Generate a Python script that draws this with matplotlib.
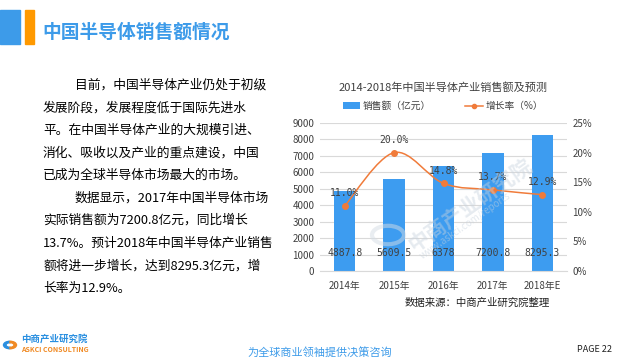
import matplotlib
matplotlib.use("Agg")
import matplotlib.pyplot as plt
from matplotlib.path import Path
from matplotlib.patches import PathPatch, Rectangle, Wedge, Circle
import numpy as np

plt.rcParams['font.family'] = ['Noto Sans CJK SC', 'DejaVu Sans']
plt.rcParams['axes.unicode_minus'] = False

# 数据
years = ["2014年", "2015年", "2016年", "2017年", "2018年E"]
sales = [4887.8, 5609.5, 6378, 7200.8, 8295.3]
sales_labels = ["4887.8", "5609.5", "6378", "7200.8", "8295.3"]
growth = [11.0, 20.0, 14.8, 13.7, 12.9]
left_ticks = [0, 1000, 2000, 3000, 4000, 5000, 6000, 7000, 8000, 9000]
right_ticks = [0, 5, 10, 15, 20, 25]

page_title = "中国半导体销售额情况"
chart_title = "2014-2018年中国半导体产业销售额及预测"
para = [
    "目前，中国半导体产业仍处于初级",
    "发展阶段，发展程度低于国际先进水",
    "平。在中国半导体产业的大规模引进、",
    "消化、吸收以及产业的重点建设，中国",
    "已成为全球半导体市场最大的市场。",
    "数据显示，2017年中国半导体市场",
    "实际销售额为7200.8亿元，同比增长",
    "13.7%。预计2018年中国半导体产业销售",
    "额将进一步增长，达到8295.3亿元，增",
    "长率为12.9%。",
]
indent = [True, False, False, False, False, True, False, False, False, False]

BLUE = "#3d9cf0"
ORANGE = "#f07b3a"
W, H = 625, 360

fig = plt.figure(figsize=(6.25, 3.6), dpi=100)
fig.patch.set_facecolor("white")


def px(x, y):
    return x / W, 1 - y / H


# 页眉
fig.patches.append(Rectangle(px(0, 44), 20 / W, 34 / H, transform=fig.transFigure,
                             color="#3d9be9", zorder=1))
fig.patches.append(Rectangle(px(25, 44), 9 / W, 34 / H, transform=fig.transFigure,
                             color="#ff9900", zorder=1))
fig.text(*px(42, 32), page_title, fontsize=13.5, color="#3d9be9",
         fontweight="bold", va="center", ha="left")

# 左侧文字
for i, line in enumerate(para):
    x0 = 75 if indent[i] else 43
    fig.text(*px(x0, 85 + i * 22.6), line, fontsize=9.2, color="black",
             va="center", ha="left")

# 图表
ax = fig.add_axes([320 / W, 1 - 271 / H, 247 / W, 148 / H])
ax2 = ax.twinx()
xs = np.arange(len(years))
ax.bar(xs, sales, width=0.43, color=BLUE, zorder=2, label="销售额（亿元）")
ax.set_ylim(0, 9000)
ax.set_xlim(-0.5, len(years) - 0.5)
ax.set_yticks(left_ticks)
ax.set_xticks(xs)
ax.set_xticklabels(years)
ax.grid(axis="y", color="#d9d9d9", linewidth=0.8, zorder=0)
ax.set_axisbelow(True)
for s in ax.spines.values():
    s.set_visible(False)
for s in ax2.spines.values():
    s.set_visible(False)
ax.spines["bottom"].set_visible(True)
ax.spines["bottom"].set_color("#d9d9d9")
ax.tick_params(axis="both", length=0, labelsize=7, colors="#404040", pad=4)
ax.tick_params(axis="x", pad=7)

for x, lab in zip(xs, sales_labels):
    ax.annotate(lab, (x, 0), xytext=(0, 13), textcoords="offset points",
                ha="center", va="center", fontsize=7, color="#404040",
                family="DejaVu Sans Mono", zorder=4)

# 平滑增长率曲线（Catmull-Rom 转 Bezier）
ax2.set_ylim(0, 25)
ax2.set_yticks(right_ticks)
ax2.set_yticklabels([f"{t}%" for t in right_ticks])
ax2.tick_params(axis="y", length=0, labelsize=7, colors="#404040", pad=4)
pts = list(zip(xs, growth))
verts = [pts[0]]
codes = [Path.MOVETO]
t = 1 / 6
for i in range(len(pts) - 1):
    p0 = pts[i - 1] if i > 0 else pts[i]
    p1 = pts[i]
    p2 = pts[i + 1]
    p3 = pts[i + 2] if i + 2 < len(pts) else pts[i + 1]
    c1 = (p1[0] + (p2[0] - p0[0]) * t, p1[1] + (p2[1] - p0[1]) * t)
    c2 = (p2[0] - (p3[0] - p1[0]) * t, p2[1] - (p3[1] - p1[1]) * t)
    verts += [c1, c2, p2]
    codes += [Path.CURVE4] * 3
ax2.add_patch(PathPatch(Path(verts, codes), facecolor="none", edgecolor=ORANGE,
                        linewidth=1.1, zorder=3))
ax2.plot(xs, growth, linestyle="none", marker="o", markersize=4, color=ORANGE,
         zorder=4)
ax2.plot([], [], color=ORANGE, marker="o", markersize=3, linewidth=1.1,
         label="增长率（%）")
for x, g in zip(xs, growth):
    ax2.annotate(f"{g:.1f}%", (x, g), xytext=(0, 9), textcoords="offset points",
                 ha="center", va="center", fontsize=7, color="#404040",
                 family="DejaVu Sans Mono", zorder=5)

# 水印
fig.patches.append(Circle(px(388, 235), 16 / W, transform=fig.transFigure,
                          facecolor="none", edgecolor="#d5dde5", linewidth=3,
                          alpha=0.5, zorder=10))
fig.text(*px(470, 205), "中商产业研究院", fontsize=15, color="#c8d3de", alpha=0.45,
         rotation=35, ha="center", va="center", fontweight="bold", zorder=10)
fig.text(*px(465, 226), "www.askci.com/reports", fontsize=7, color="#c8d3de",
         alpha=0.5, rotation=35, ha="center", va="center", zorder=10)

# 标题与图例
fig.text(*px(443, 87), chart_title, fontsize=8, color="#404040",
         ha="center", va="center")
h1, l1 = ax.get_legend_handles_labels()
h2, l2 = ax2.get_legend_handles_labels()
fig.legend(h1 + h2, l1 + l2, loc="center", bbox_to_anchor=px(443, 106),
           ncol=2, frameon=False, fontsize=7, handlelength=1.8, handleheight=0.6,
           columnspacing=3.5, handletextpad=0.3, labelcolor="#404040")

fig.text(*px(405, 303), "数据来源：中商产业研究院整理", fontsize=7.5, color="#202020",
         ha="left", va="center")

# 页脚
fig.patches.append(Wedge(px(10, 345), 6.5 / W, 90, 270, width=2.5 / W,
                         transform=fig.transFigure, color="#2a8fe0"))
fig.patches.append(Wedge(px(10, 345), 6.5 / W, -90, 90, width=2.5 / W,
                         transform=fig.transFigure, color="#f08a24"))
fig.text(*px(21, 339), "中商产业研究院", fontsize=6.8, color="#2a8fe0",
         fontweight="bold", ha="left", va="center")
fig.text(*px(21, 350), "ASKCI CONSULTING", fontsize=5, color="#f08a24",
         fontweight="bold", ha="left", va="center")
fig.text(*px(320, 352), "为全球商业领袖提供决策咨询", fontsize=8, color="#3d9be9",
         style="italic", ha="center", va="center")
fig.text(*px(612, 349), "PAGE 22", fontsize=6.5, color="#202020",
         ha="right", va="center")

fig.savefig("out.png", dpi=100)
